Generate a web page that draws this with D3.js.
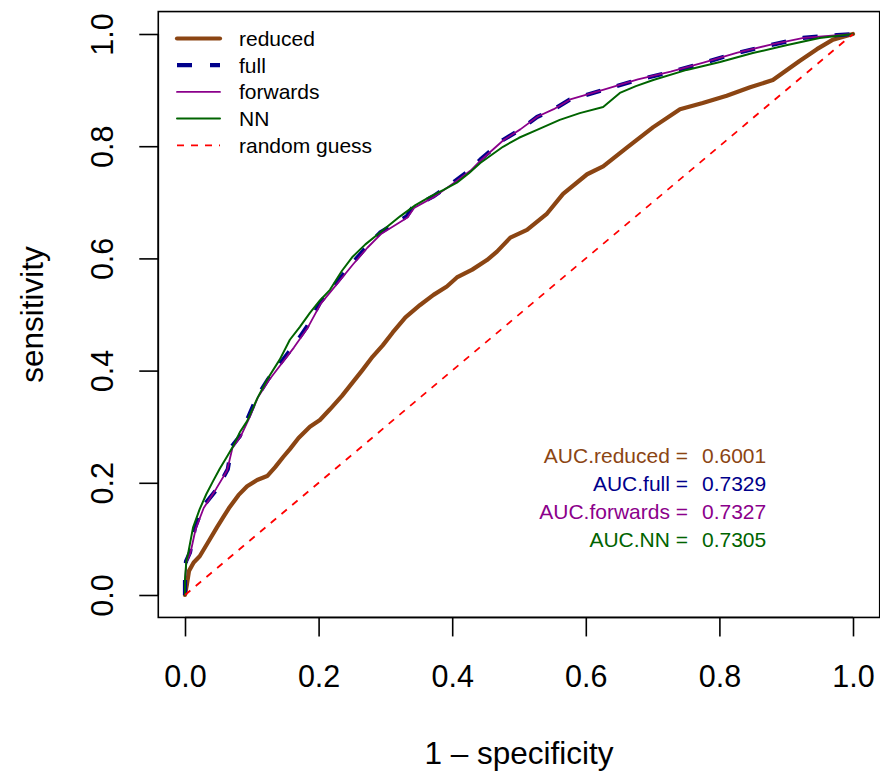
<!DOCTYPE html>
<html><head><meta charset="utf-8">
<script src="https://cdn.jsdelivr.net/npm/d3@7"></script>
<style>body{margin:0;background:#fff}svg{display:block;font-family:"Liberation Sans",Arial,sans-serif}</style>
</head><body><svg id="c" width="880" height="776"></svg>
<script>
const xTicks=[0,0.2,0.4,0.6,0.8,1.0];
const yTicks=[0,0.2,0.4,0.6,0.8,1.0];
const tickLabels=["0.0","0.2","0.4","0.6","0.8","1.0"];

const reducedX=[0,0.003,0.006,0.013,0.022,0.035,0.048,0.058,0.067,0.08,0.093,0.108,0.123,0.135,0.147,0.157,0.17,0.187,0.202,0.217,0.235,0.251,0.265,0.281,0.296,0.311,0.33,0.352,0.372,0.392,0.407,0.43,0.452,0.467,0.487,0.512,0.542,0.566,0.602,0.626,0.662,0.701,0.741,0.775,0.811,0.846,0.88,0.9,0.92,0.946,0.97,1];
const reducedY=[0,0.02,0.043,0.058,0.069,0.095,0.121,0.14,0.157,0.178,0.194,0.205,0.212,0.228,0.246,0.26,0.28,0.3,0.312,0.331,0.355,0.379,0.4,0.425,0.445,0.468,0.495,0.517,0.535,0.55,0.566,0.58,0.597,0.612,0.637,0.651,0.68,0.715,0.75,0.764,0.798,0.834,0.866,0.877,0.89,0.905,0.918,0.935,0.952,0.973,0.99,1];

const fullX=[0,0,0.0015,0.0075,0.015,0.027,0.048,0.064,0.07,0.082,0.095,0.108,0.124,0.142,0.162,0.183,0.202,0.222,0.251,0.272,0.292,0.332,0.341,0.371,0.401,0.427,0.442,0.476,0.501,0.527,0.551,0.576,0.626,0.677,0.726,0.775,0.826,0.876,0.925,0.976,1];
const fullY=[0,0.025,0.06,0.076,0.12,0.158,0.189,0.224,0.265,0.283,0.318,0.354,0.384,0.412,0.443,0.479,0.521,0.55,0.592,0.621,0.646,0.675,0.692,0.71,0.735,0.758,0.776,0.811,0.829,0.852,0.865,0.883,0.9,0.918,0.932,0.948,0.966,0.98,0.993,0.998,1];

const forwardsX=[0,0,0.002,0.008,0.016,0.028,0.047,0.063,0.071,0.083,0.096,0.109,0.125,0.143,0.163,0.184,0.203,0.223,0.252,0.273,0.294,0.333,0.343,0.372,0.402,0.428,0.443,0.477,0.502,0.528,0.552,0.578,0.627,0.678,0.727,0.776,0.827,0.877,0.926,0.977,1];
const forwardsY=[0,0.022,0.058,0.074,0.118,0.155,0.19,0.222,0.262,0.282,0.315,0.352,0.382,0.41,0.441,0.477,0.519,0.548,0.59,0.619,0.644,0.673,0.69,0.709,0.734,0.757,0.775,0.811,0.83,0.853,0.866,0.884,0.901,0.919,0.933,0.949,0.967,0.981,0.993,0.998,1];

const nnX=[0,0,0.002,0.005,0.012,0.022,0.032,0.042,0.052,0.063,0.072,0.082,0.093,0.108,0.123,0.142,0.157,0.172,0.187,0.202,0.217,0.235,0.251,0.27,0.292,0.322,0.345,0.367,0.387,0.407,0.425,0.442,0.476,0.5,0.527,0.561,0.591,0.626,0.651,0.675,0.701,0.751,0.801,0.85,0.9,0.95,1];
const nnY=[0,0.028,0.06,0.076,0.12,0.153,0.18,0.203,0.225,0.247,0.265,0.29,0.31,0.35,0.384,0.42,0.455,0.478,0.503,0.525,0.544,0.578,0.603,0.625,0.646,0.675,0.695,0.71,0.722,0.735,0.752,0.77,0.799,0.815,0.829,0.847,0.859,0.87,0.895,0.907,0.918,0.936,0.95,0.966,0.98,0.993,1];

const randomX=[0,1];
const randomY=[0,1];

const seriesNames=["reduced","full","forwards","NN","random guess"];
const aucLabels=["AUC.reduced = ","AUC.full = ","AUC.forwards = ","AUC.NN = "];
const aucValues=["0.6001","0.7329","0.7327","0.7305"];

const colors={reduced:"#8B4513",full:"#00008B",forwards:"#8B008B",NN:"#006400",random:"#FF0000"};

const svg=d3.select("#c");
const x=d3.scaleLinear().domain([0,1]).range([185,853]);
const y=d3.scaleLinear().domain([0,1]).range([595,34]);
const box={l:x(-0.04),r:x(1.04),t:y(1.04),b:y(-0.04)};

const line=d3.line().x(d=>x(d[0])).y(d=>y(d[1]));
const zip=(a,b)=>a.map((v,i)=>[v,b[i]]);

const series=[
 {name:"reduced",xs:reducedX,ys:reducedY,color:colors.reduced,w:4.2,dash:null},
 {name:"full",xs:fullX,ys:fullY,color:colors.full,w:4.2,dash:"15,17"},
 {name:"forwards",xs:forwardsX,ys:forwardsY,color:colors.forwards,w:1.8,dash:null},
 {name:"NN",xs:nnX,ys:nnY,color:colors.NN,w:2,dash:null},
 {name:"random guess",xs:randomX,ys:randomY,color:colors.random,w:1.8,dash:"7,7"}
];
const clip=svg.append("clipPath").attr("id","cp").append("rect")
 .attr("x",box.l).attr("y",box.t).attr("width",box.r-box.l).attr("height",box.b-box.t);
const g=svg.append("g").attr("clip-path","url(#cp)");
series.forEach(s=>{
 g.append("path").attr("d",line(zip(s.xs,s.ys))).attr("fill","none")
  .attr("stroke",s.color).attr("stroke-width",s.w)
  .attr("stroke-linejoin","round").attr("stroke-linecap",s.dash?"butt":"round")
  .attr("stroke-dasharray",s.dash);
});

svg.append("rect").attr("x",box.l).attr("y",box.t).attr("width",box.r-box.l).attr("height",box.b-box.t)
 .attr("fill","none").attr("stroke","#000").attr("stroke-width",1.6);

// x axis
const xa=svg.append("g").attr("transform",`translate(0,${box.b})`)
 .call(d3.axisBottom(x).tickValues(xTicks).tickFormat((d,i)=>tickLabels[i]).tickSize(19).tickPadding(0));
xa.select(".domain").attr("d",`M${x(0)},0H${x(1)}`).attr("stroke-width",1.6);
xa.selectAll(".tick line").attr("stroke-width",1.6);
xa.selectAll(".tick text").attr("font-size",30.5).attr("font-family","Liberation Sans, Arial, sans-serif")
 .attr("fill","#000").attr("dy",null).attr("y",70);

// y axis
const ya=svg.append("g").attr("transform",`translate(${box.l},0)`)
 .call(d3.axisLeft(y).tickValues(yTicks).tickFormat((d,i)=>tickLabels[i]).tickSize(19).tickPadding(0));
ya.select(".domain").attr("d",`M0,${y(0)}V${y(1)}`).attr("stroke-width",1.6);
ya.selectAll(".tick line").attr("stroke-width",1.6);
ya.selectAll(".tick text").attr("font-size",30.5).attr("font-family","Liberation Sans, Arial, sans-serif")
 .attr("fill","#000").attr("x",null).attr("dy",null).attr("text-anchor","middle")
 .attr("transform","translate(-45,0) rotate(-90)");

svg.append("text").attr("x",(box.l+box.r)/2).attr("y",764).attr("text-anchor","middle")
 .attr("font-size",31.5).text("1 \u2013 specificity");
svg.append("text").attr("transform",`translate(43,${(box.t+box.b)/2}) rotate(-90)`).attr("text-anchor","middle")
 .attr("font-size",31.5).text("sensitivity");

// legend
const lg=svg.append("g");
series.forEach((s,i)=>{
 const yy=38.5+i*26.7;
 lg.append("line").attr("x1",177).attr("x2",220).attr("y1",yy).attr("y2",yy)
  .attr("stroke",s.color).attr("stroke-width",s.w)
  .attr("stroke-dasharray",s.name==="full"?"15,18":s.dash).attr("stroke-linecap",s.dash?"butt":"round");
 lg.append("text").attr("x",239).attr("y",yy+7.3).attr("font-size",21).text(seriesNames[i]);
});

// AUC text
const aucColors=[colors.reduced,colors.full,colors.forwards,colors.NN];
aucLabels.forEach((t,i)=>{
 const yy=463+i*28;
 svg.append("text").attr("x",688).attr("y",yy).attr("text-anchor","end").attr("font-size",21)
  .attr("fill",aucColors[i]).text(t.trim());
 svg.append("text").attr("x",702).attr("y",yy).attr("font-size",21).attr("fill",aucColors[i]).text(aucValues[i]);
});
</script></body></html>
